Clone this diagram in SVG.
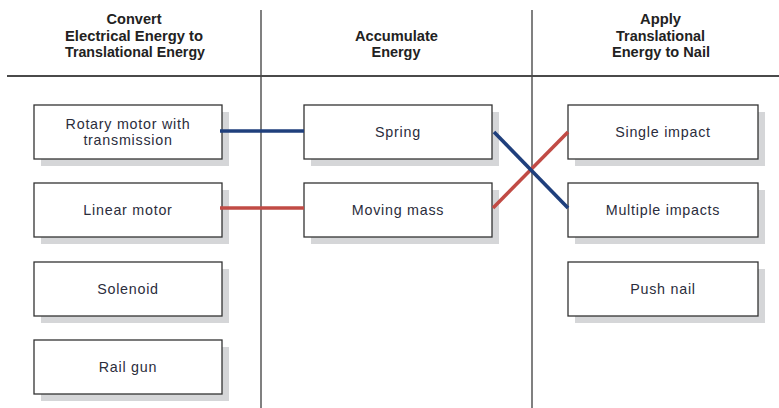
<svg xmlns="http://www.w3.org/2000/svg" width="779" height="408" viewBox="0 0 779 408">
<style>
.hdr{font-family:"Liberation Sans",Arial,sans-serif;font-weight:bold;font-size:15.5px;fill:#222;text-anchor:middle}
.lbl{font-family:"Liberation Sans",Arial,sans-serif;font-size:14.3px;letter-spacing:0.75px;fill:#2b2d3c;text-anchor:middle}
.box{fill:#fff;stroke:#333;stroke-width:1.3}
.shd{fill:#d5d6d8}
.rule{stroke:#4a4a4a;fill:none}
.blue{stroke:#1f3f7c;stroke-width:3.6;fill:none}
.red{stroke:#c14b45;stroke-width:3.6;fill:none}
</style>
<rect width="779" height="408" fill="#fff"/>
<g id="grid">
<line class="rule" x1="7" y1="76" x2="779" y2="76" stroke-width="2"/>
<line class="rule" x1="261" y1="10" x2="261" y2="408" stroke-width="1.4"/>
<line class="rule" x1="532" y1="10" x2="532" y2="408" stroke-width="1.4"/>
</g>
<g id="headers">
<text class="hdr" x="134" y="24" textLength="55" lengthAdjust="spacingAndGlyphs">Convert</text>
<text class="hdr" x="134" y="41" textLength="138" lengthAdjust="spacingAndGlyphs">Electrical Energy to</text>
<text class="hdr" x="135" y="57" textLength="140" lengthAdjust="spacingAndGlyphs">Translational Energy</text>
<text class="hdr" x="396.5" y="41" textLength="83" lengthAdjust="spacingAndGlyphs">Accumulate</text>
<text class="hdr" x="396" y="57" textLength="49" lengthAdjust="spacingAndGlyphs">Energy</text>
<text class="hdr" x="660.5" y="24" textLength="41" lengthAdjust="spacingAndGlyphs">Apply</text>
<text class="hdr" x="660.5" y="41" textLength="89" lengthAdjust="spacingAndGlyphs">Translational</text>
<text class="hdr" x="661" y="57" textLength="98" lengthAdjust="spacingAndGlyphs">Energy to Nail</text>
</g>
<g id="rotary">
<rect class="shd" x="41" y="112" width="188" height="54"/>
<rect class="box" x="34" y="105" width="188" height="54"/>
<text class="lbl" x="128" y="129">Rotary motor with</text>
<text class="lbl" x="128" y="145">transmission</text>
</g>
<g id="linear">
<rect class="shd" x="41" y="190" width="188" height="54"/>
<rect class="box" x="34" y="183" width="188" height="54"/>
<text class="lbl" x="128" y="215">Linear motor</text>
</g>
<g id="solenoid">
<rect class="shd" x="41" y="269" width="188" height="54"/>
<rect class="box" x="34" y="262" width="188" height="54"/>
<text class="lbl" x="128" y="294">Solenoid</text>
</g>
<g id="railgun">
<rect class="shd" x="41" y="347" width="188" height="54"/>
<rect class="box" x="34" y="340" width="188" height="54"/>
<text class="lbl" x="128" y="372">Rail gun</text>
</g>
<g id="spring">
<rect class="shd" x="311" y="112" width="188" height="54"/>
<rect class="box" x="304" y="105" width="188" height="54"/>
<text class="lbl" x="398" y="137">Spring</text>
</g>
<g id="movingmass">
<rect class="shd" x="311" y="190" width="188" height="54"/>
<rect class="box" x="304" y="183" width="188" height="54"/>
<text class="lbl" x="398" y="215">Moving mass</text>
</g>
<g id="single">
<rect class="shd" x="575" y="112" width="190" height="54"/>
<rect class="box" x="568" y="105" width="190" height="54"/>
<text class="lbl" x="663" y="137">Single impact</text>
</g>
<g id="multiple">
<rect class="shd" x="575" y="190" width="190" height="54"/>
<rect class="box" x="568" y="183" width="190" height="54"/>
<text class="lbl" x="663" y="215">Multiple impacts</text>
</g>
<g id="pushnail">
<rect class="shd" x="575" y="269" width="190" height="54"/>
<rect class="box" x="568" y="262" width="190" height="54"/>
<text class="lbl" x="663" y="294">Push nail</text>
</g>
<g id="connectors">
<line class="blue" x1="220" y1="131" x2="304" y2="131"/>
<line class="red" x1="220" y1="208" x2="304" y2="208"/>
<line class="red" x1="493" y1="208" x2="568" y2="132"/>
<line class="blue" x1="494" y1="132" x2="568" y2="208"/>
</g>
</svg>
